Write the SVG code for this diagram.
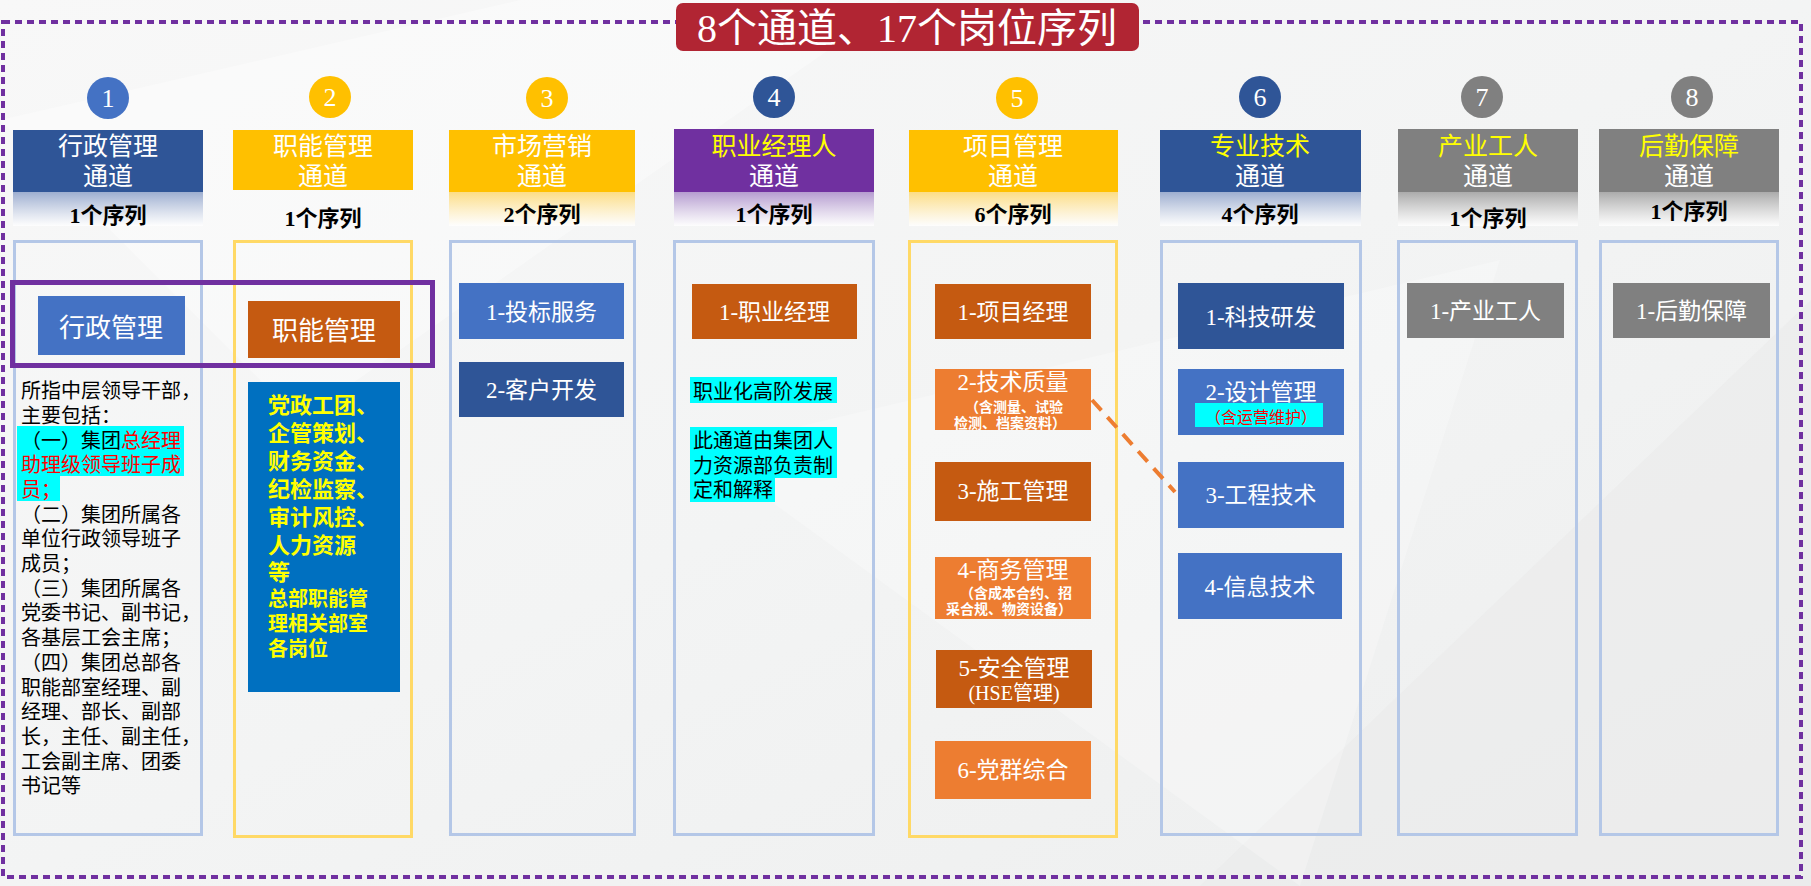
<svg xmlns="http://www.w3.org/2000/svg" width="1811" height="886" viewBox="0 0 1811 886">
<defs>
<linearGradient id="bg" x1="0" y1="0" x2="1" y2="1"><stop offset="0" stop-color="#F8F8F8"/><stop offset="0.5" stop-color="#F3F4F4"/><stop offset="1" stop-color="#EDEEEE"/></linearGradient>
<linearGradient id="gBlue" x1="0" y1="0" x2="0" y2="1"><stop offset="0" stop-color="#9DAED0"/><stop offset="1" stop-color="#FFFFFF" stop-opacity="0.8"/></linearGradient>
<linearGradient id="gYellow" x1="0" y1="0" x2="0" y2="1"><stop offset="0" stop-color="#FCDD86"/><stop offset="1" stop-color="#FFFFFF" stop-opacity="0.8"/></linearGradient>
<linearGradient id="gPurple" x1="0" y1="0" x2="0" y2="1"><stop offset="0" stop-color="#B59CD0"/><stop offset="1" stop-color="#FFFFFF" stop-opacity="0.8"/></linearGradient>
<linearGradient id="gGray" x1="0" y1="0" x2="0" y2="1"><stop offset="0" stop-color="#ABABAB"/><stop offset="1" stop-color="#FFFFFF" stop-opacity="0.8"/></linearGradient>
</defs>
<style>
text{font-family:"Liberation Serif","Noto Sans CJK SC",serif}
.hd{font-size:25px;text-anchor:middle}
.w{fill:#FFFFFF}
.y{fill:#FFFF00}
.seq{font-size:22px;font-weight:bold;fill:#000000;text-anchor:middle}
.num{font-size:26px;fill:#FFFFFF;text-anchor:middle}
.col{fill:none;stroke-width:3}
.cb{stroke:#B4C7E7}
.cy{stroke:#FFD966}
.bt{font-size:23px;fill:#FFFFFF;text-anchor:middle}
.st{font-size:14px;fill:#FFFFFF;text-anchor:middle;font-weight:bold}
.body{font-size:20px;fill:#000000}
.yb{font-weight:bold;fill:#FFFF00}
.red{fill:#FF0000}
.cyan{fill:#00FFFF}
</style>

<rect x="0" y="0" width="1811" height="886" fill="url(#bg)"/>
<polygon points="0,120 520,0 900,0 300,420" fill="#FFFFFF" opacity="0.35"/>
<polygon points="1200,886 1811,300 1811,886" fill="#E9EAEA" opacity="0.5"/>
<polygon points="700,450 1500,260 1300,886" fill="#FFFFFF" opacity="0.25"/>

<rect id="frame" x="3" y="22" width="1798" height="855" fill="none" stroke="#7030A0" stroke-width="4" stroke-dasharray="7 5"/>

<g id="title">
<rect x="676" y="3" width="463" height="48" rx="7" fill="#B12533"/>
<text x="907" y="42" font-size="40" fill="#FFFFFF" text-anchor="middle">8个通道、17个岗位序列</text>
</g>

<!-- channel headers -->
<g id="ch1">
<circle cx="108" cy="98" r="21" fill="#4472C4"/><text class="num" x="108" y="107">1</text>
<rect x="13" y="130" width="190" height="62" fill="#2F5597"/>
<rect x="13" y="192" width="190" height="34" fill="url(#gBlue)"/>
<text class="hd w" x="108" y="155">行政管理</text><text class="hd w" x="108" y="185">通道</text>
<text class="seq" x="108" y="223">1个序列</text>
</g>
<g id="ch2">
<circle cx="330" cy="97" r="21" fill="#FFC000"/><text class="num" x="330" y="106">2</text>
<rect x="233" y="130" width="180" height="60" fill="#FFC000"/>
<text class="hd w" x="323" y="155">职能管理</text><text class="hd w" x="323" y="185">通道</text>
<text class="seq" x="323" y="226">1个序列</text>
</g>
<g id="ch3">
<circle cx="547" cy="98" r="21" fill="#FFC000"/><text class="num" x="547" y="107">3</text>
<rect x="449" y="130" width="186" height="62" fill="#FFC000"/>
<rect x="449" y="192" width="186" height="34" fill="url(#gYellow)"/>
<text class="hd w" x="542" y="155">市场营销</text><text class="hd w" x="542" y="185">通道</text>
<text class="seq" x="542" y="222">2个序列</text>
</g>
<g id="ch4">
<circle cx="774" cy="97" r="21" fill="#2F5597"/><text class="num" x="774" y="106">4</text>
<rect x="674" y="129" width="200" height="63" fill="#7030A0"/>
<rect x="674" y="192" width="200" height="34" fill="url(#gPurple)"/>
<text class="hd y" x="774" y="155">职业经理人</text><text class="hd w" x="774" y="185">通道</text>
<text class="seq" x="774" y="222">1个序列</text>
</g>
<g id="ch5">
<circle cx="1017" cy="98" r="21" fill="#FFC000"/><text class="num" x="1017" y="107">5</text>
<rect x="909" y="130" width="209" height="62" fill="#FFC000"/>
<rect x="909" y="192" width="209" height="34" fill="url(#gYellow)"/>
<text class="hd w" x="1013" y="155">项目管理</text><text class="hd w" x="1013" y="185">通道</text>
<text class="seq" x="1013" y="222">6个序列</text>
</g>
<g id="ch6">
<circle cx="1260" cy="97" r="21" fill="#2F5597"/><text class="num" x="1260" y="106">6</text>
<rect x="1160" y="130" width="201" height="62" fill="#2F5597"/>
<rect x="1160" y="192" width="201" height="34" fill="url(#gBlue)"/>
<text class="hd y" x="1260" y="155">专业技术</text><text class="hd w" x="1260" y="185">通道</text>
<text class="seq" x="1260" y="222">4个序列</text>
</g>
<g id="ch7">
<circle cx="1482" cy="97" r="21" fill="#808080"/><text class="num" x="1482" y="106">7</text>
<rect x="1398" y="129" width="180" height="63" fill="#808080"/>
<rect x="1398" y="192" width="180" height="34" fill="url(#gGray)"/>
<text class="hd y" x="1488" y="155">产业工人</text><text class="hd w" x="1488" y="185">通道</text>
<text class="seq" x="1488" y="226">1个序列</text>
</g>
<g id="ch8">
<circle cx="1692" cy="97" r="21" fill="#808080"/><text class="num" x="1692" y="106">8</text>
<rect x="1599" y="129" width="180" height="63" fill="#808080"/>
<rect x="1599" y="192" width="180" height="34" fill="url(#gGray)"/>
<text class="hd y" x="1689" y="155">后勤保障</text><text class="hd w" x="1689" y="185">通道</text>
<text class="seq" x="1689" y="219">1个序列</text>
</g>

<!-- columns -->
<g id="col1">
<rect class="col cb" x="14.5" y="241.5" width="187" height="593"/>
<g id="n-xzgl"><rect x="38" y="296" width="147" height="59" fill="#4472C4"/><text x="111" y="337" font-size="26" fill="#FFFFFF" text-anchor="middle">行政管理</text></g>
<path d="M17 426 H184 V476 H60 V501 H17 Z" class="cyan"/>
<text class="body">
<tspan x="21" y="398">所指中层领导干部，</tspan>
<tspan x="21" y="423">主要包括：</tspan>
<tspan x="21" y="448">（一）集团<tspan class="red">总经理</tspan></tspan>
<tspan x="21" y="472" class="red">助理级领导班子成</tspan>
<tspan x="21" y="497" class="red">员；</tspan>
<tspan x="21" y="522">（二）集团所属各</tspan>
<tspan x="21" y="546">单位行政领导班子</tspan>
<tspan x="21" y="571">成员；</tspan>
<tspan x="21" y="596">（三）集团所属各</tspan>
<tspan x="21" y="620">党委书记、副书记，</tspan>
<tspan x="21" y="645">各基层工会主席；</tspan>
<tspan x="21" y="670">（四）集团总部各</tspan>
<tspan x="21" y="695">职能部室经理、副</tspan>
<tspan x="21" y="719">经理、部长、副部</tspan>
<tspan x="21" y="744">长，主任、副主任，</tspan>
<tspan x="21" y="769">工会副主席、团委</tspan>
<tspan x="21" y="793">书记等</tspan>
</text>
</g>

<g id="col2">
<rect class="col cy" x="234.5" y="241.5" width="177" height="595"/>
<g id="n-zngl"><rect x="248" y="301" width="152" height="57" fill="#C55A11"/><text x="324" y="340" font-size="26" fill="#FFFFFF" text-anchor="middle">职能管理</text></g>
<g id="n-zn-desc"><rect x="248" y="382" width="152" height="310" fill="#0070C0"/>
<text class="yb" font-size="22">
<tspan x="268" y="413">党政工团、</tspan>
<tspan x="268" y="441">企管策划、</tspan>
<tspan x="268" y="469">财务资金、</tspan>
<tspan x="268" y="497">纪检监察、</tspan>
<tspan x="268" y="525">审计风控、</tspan>
<tspan x="268" y="553">人力资源</tspan>
<tspan x="268" y="580">等</tspan>
</text>
<text class="yb" font-size="20">
<tspan x="268" y="606">总部职能管</tspan>
<tspan x="268" y="631">理相关部室</tspan>
<tspan x="268" y="656">各岗位</tspan>
</text></g>
</g>

<g id="hl-box"><rect x="12.5" y="282.5" width="420" height="83" fill="none" stroke="#7030A0" stroke-width="5"/></g>

<g id="col3">
<rect class="col cb" x="450.5" y="241.5" width="184" height="593"/>
<g id="n-3-1"><rect x="459" y="283" width="165" height="56" fill="#4472C4"/><text class="bt" x="541.5" y="320">1-投标服务</text></g>
<g id="n-3-2"><rect x="459" y="362" width="165" height="55" fill="#2F5597"/><text class="bt" x="541.5" y="398">2-客户开发</text></g>
</g>

<g id="col4">
<rect class="col cb" x="674.5" y="241.5" width="199" height="593"/>
<g id="n-4-1"><rect x="692" y="284" width="165" height="55" fill="#C55A11"/><text class="bt" x="774.5" y="320">1-职业经理</text></g>
<rect x="690" y="377" width="147" height="26" class="cyan"/>
<text class="body" x="693" y="399">职业化高阶发展</text>
<path d="M690 427 H837 V478 H775 V502 H690 Z" class="cyan"/>
<text class="body">
<tspan x="693" y="448">此通道由集团人</tspan>
<tspan x="693" y="473">力资源部负责制</tspan>
<tspan x="693" y="497">定和解释</tspan>
</text>
</g>

<g id="col5">
<rect class="col cy" x="909.5" y="241.5" width="207" height="595"/>
<g id="n-5-1"><rect x="935" y="284" width="156" height="55" fill="#C55A11"/><text class="bt" x="1013" y="320">1-项目经理</text></g>
<g id="n-5-2"><rect x="935" y="369" width="156" height="61" fill="#ED7D31"/><text class="bt" x="1013" y="390">2-技术质量</text>
<text class="st" x="1014" y="412">（含测量、试验</text><text class="st" x="1010" y="428">检测、档案资料）</text></g>
<g id="n-5-3"><rect x="935" y="462" width="156" height="59" fill="#C55A11"/><text class="bt" x="1013" y="499">3-施工管理</text></g>
<g id="n-5-4"><rect x="935" y="557" width="156" height="62" fill="#ED7D31"/><text class="bt" x="1013" y="578">4-商务管理</text>
<text class="st" x="1016" y="598">（含成本合约、招</text><text class="st" x="1009" y="614">采合规、物资设备）</text></g>
<g id="n-5-5"><rect x="936" y="650" width="156" height="58" fill="#C55A11"/><text class="bt" x="1014" y="676">5-安全管理</text>
<text x="1014" y="700" font-size="20" fill="#FFFFFF" text-anchor="middle">(HSE管理)</text></g>
<g id="n-5-6"><rect x="935" y="741" width="156" height="58" fill="#ED7D31"/><text class="bt" x="1013" y="778">6-党群综合</text></g>
</g>

<g id="col6">
<rect class="col cb" x="1161.5" y="241.5" width="199" height="593"/>
<g id="n-6-1"><rect x="1178" y="283" width="166" height="66" fill="#2F5597"/><text class="bt" x="1261" y="325">1-科技研发</text></g>
<g id="n-6-2"><rect x="1178" y="369" width="166" height="66" fill="#4472C4"/><text class="bt" x="1261" y="400">2-设计管理</text>
<rect x="1195" y="403" width="128" height="24" class="cyan"/>
<text x="1261" y="423" font-size="16" class="red" text-anchor="middle">（含运营维护）</text></g>
<g id="n-6-3"><rect x="1178" y="462" width="166" height="66" fill="#4472C4"/><text class="bt" x="1261" y="503">3-工程技术</text></g>
<g id="n-6-4"><rect x="1178" y="553" width="164" height="66" fill="#4472C4"/><text class="bt" x="1260" y="595">4-信息技术</text></g>
</g>

<g id="col7">
<rect class="col cb" x="1398.5" y="241.5" width="178" height="593"/>
<g id="n-7-1"><rect x="1407" y="283" width="157" height="55" fill="#808080"/><text class="bt" x="1485.5" y="319">1-产业工人</text></g>
</g>

<g id="col8">
<rect class="col cb" x="1600.5" y="241.5" width="177" height="593"/>
<g id="n-8-1"><rect x="1613" y="283" width="157" height="55" fill="#808080"/><text class="bt" x="1691.5" y="319">1-后勤保障</text></g>
</g>

<g id="connectors">
<line x1="1092" y1="400" x2="1175" y2="492" stroke="#ED7D31" stroke-width="4" stroke-dasharray="14 9"/>
</g>
</svg>
